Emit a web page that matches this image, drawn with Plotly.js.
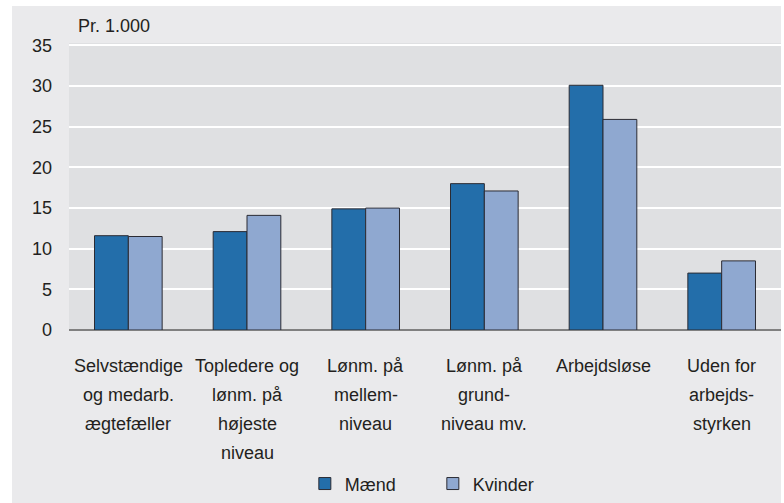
<!DOCTYPE html>
<html>
<head>
<meta charset="utf-8">
<script src="https://cdn.plot.ly/plotly-3.0.1.min.js"></script>
<style>
  html, body { margin: 0; padding: 0; background: #ffffff; width: 784px; height: 503px; overflow: hidden; }
  #chart { position: absolute; left: 12px; top: 6px; width: 769px; height: 497px; }
</style>
</head>
<body>
<div id="chart"></div>
<script>
// Categories (multi-line labels, lines separated by <br>)
const categories = [
  "Selvstændige<br>og medarb.<br>ægtefæller",
  "Topledere og<br>lønm. på<br>højeste<br>niveau",
  "Lønm. på<br>mellem-<br>niveau",
  "Lønm. på<br>grund-<br>niveau mv.",
  "Arbejdsløse",
  "Uden for<br>arbejds-<br>styrken"
];
const maend = [11.6, 12.1, 14.9, 18.0, 30.1, 7.0];
const kvinder = [11.5, 14.1, 15.0, 17.1, 25.9, 8.5];
const seriesNames = ["Mænd", "Kvinder"];
const yTicks = [0, 5, 10, 15, 20, 25, 30, 35];
const unitLabel = "Pr. 1.000";

const FONT = "Liberation Sans, Arial, sans-serif";
const TXT = "#231f20";
const lineColor = "#2b2b33";

const traces = [
  { type: "bar", name: seriesNames[0], x: categories, y: maend,
    marker: { color: "#236eaa", line: { color: lineColor, width: 1 } } },
  { type: "bar", name: seriesNames[1], x: categories, y: kvinder,
    marker: { color: "#8fa8d0", line: { color: lineColor, width: 1 } } }
];

// Category labels as per-line annotations (for wider line spacing)
const annotations = [];
categories.forEach(function (cat) {
  cat.split("<br>").forEach(function (line, i) {
    annotations.push({
      x: cat, xref: "x", y: 0, yref: "paper",
      text: line, showarrow: false,
      xanchor: "center", yanchor: "middle",
      yshift: -(36 + i * 29),
      font: { family: FONT, size: 18, color: TXT }
    });
  });
});
annotations.push({
  x: 0, xref: "paper", y: 1, yref: "paper",
  text: unitLabel, showarrow: false,
  xanchor: "left", yanchor: "middle", xshift: 7, yshift: 17,
  font: { family: FONT, size: 18, color: TXT }
});

const layout = {
  width: 769, height: 497,
  margin: { l: 57, r: 0, t: 37, b: 171 },
  paper_bgcolor: "#eaeaec",
  plot_bgcolor: "#dfe0e2",
  barmode: "group",
  bargap: 0.43,
  bargroupgap: 0,
  font: { family: FONT, size: 18, color: TXT },
  xaxis: {
    type: "category",
    showticklabels: false,
    showgrid: false,
    zeroline: false,
    showline: false,
    ticks: ""
  },
  yaxis: {
    range: [0, 35.3],
    tickvals: yTicks,
    ticktext: yTicks.map(String),
    showgrid: true,
    gridcolor: "#ffffff",
    gridwidth: 2,
    zeroline: true,
    zerolinecolor: "#808080",
    zerolinewidth: 1.5,
    ticks: "",
    ticklabelstandoff: 16,
    tickfont: { family: FONT, size: 18, color: TXT }
  },
  showlegend: true,
  legend: {
    orientation: "h",
    x: 0.511, xanchor: "center",
    y: -0.536, yanchor: "middle",
    bgcolor: "rgba(0,0,0,0)",
    entrywidth: 83,
    entrywidthmode: "pixels",
    font: { family: FONT, size: 18, color: TXT },
    itemclick: false
  },
  annotations: annotations
};

Plotly.newPlot("chart", traces, layout, { displayModeBar: false, staticPlot: true });
</script>
</body>
</html>
